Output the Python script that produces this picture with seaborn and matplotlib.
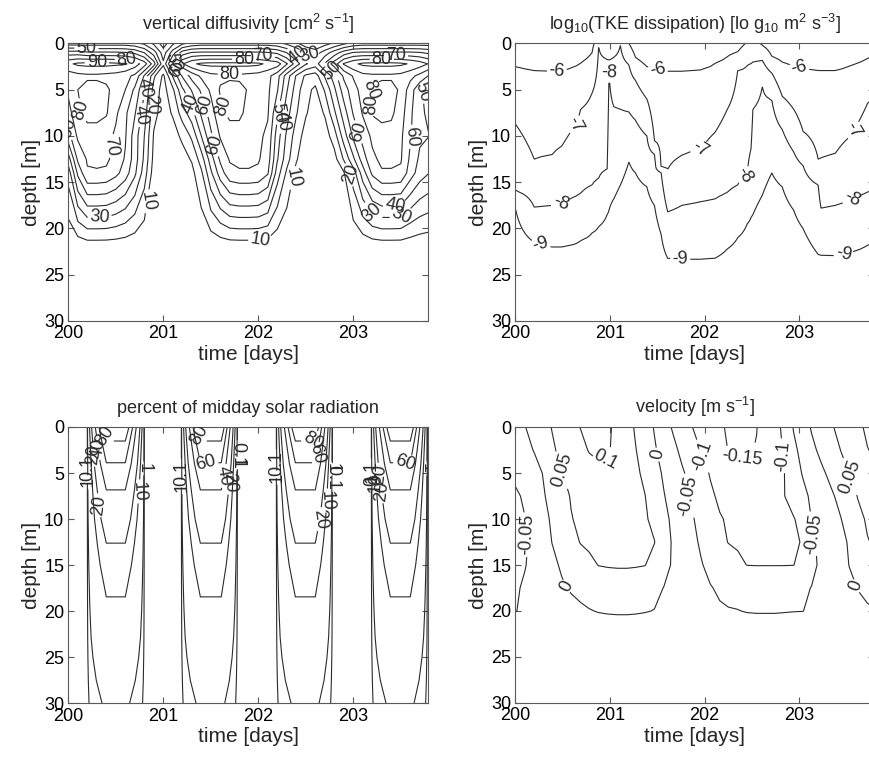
import numpy as np
import matplotlib
matplotlib.use("Agg")
import matplotlib.pyplot as plt
import seaborn as sns

# ------------------------------------------------------------------ data
# (a) vertical diffusivity [cm2 s-1] : rows = depth, columns = time
kv_time = [200.0, 200.1, 200.2, 200.3, 200.4, 200.5, 200.6, 200.7, 200.8, 200.9,
           201.0, 201.1, 201.2, 201.3, 201.4, 201.5, 201.6, 201.7, 201.8, 201.9,
           202.0, 202.1, 202.2, 202.3, 202.4, 202.5, 202.6, 202.7, 202.8, 202.9,
           203.0, 203.1, 203.2, 203.3, 203.4, 203.5, 203.6, 203.7, 203.8]
kv_depth = [0, 1, 2.2, 3.5, 5, 7.5, 10, 12.5, 14, 22.5, 30]
kv_z0 = [35, 35, 35, 35, 35, 35, 35, 33, 28, 18, 5, 18, 28, 33, 35, 35, 35, 35, 35, 35,
         35, 35, 33, 28, 22, 14, 11, 16, 22, 28, 33, 35, 35, 35, 35, 35, 35, 35, 35]
kv_z1 = [65, 65, 62, 62, 62, 62, 61, 58, 50, 35, 15, 35, 55, 61, 62, 62, 62, 62, 62, 62,
         62, 61, 58, 50, 39, 30, 25, 35, 45, 55, 61, 62, 62, 62, 62, 62, 62, 61, 58]
kv_z22 = [88, 92, 93, 93, 93, 92, 91, 85, 75, 55, 22, 55, 79, 88, 92, 93, 93, 93, 93, 93,
          92, 88, 85, 71, 55, 41, 35, 51, 65, 81, 88, 92, 93, 93, 93, 92, 89, 85, 79]
kv_z35 = [75, 77, 78, 78, 77, 76, 73, 68, 49, 22, 8, 31, 51, 64, 72, 77, 78, 78, 78, 77,
          76, 73, 64, 45, 29, 18, 15, 31, 45, 62, 71, 77, 78, 78, 78, 77, 73, 67, 59]
kv_z5 = [72, 80, 84, 84, 82, 76, 70, 58, 41, 16, 6, 18, 38, 51, 62, 72, 81, 84, 83, 79,
         76, 72, 61, 41, 25, 13, 8, 21, 38, 55, 66, 74, 81, 84, 84, 78, 65, 52, 45]
kv_z75 = [66, 78, 83, 83, 81, 72, 62, 51, 35, 13, 6, 11, 25, 36, 52, 65, 78, 82, 82, 77,
          74, 71, 52, 34, 21, 11, 5, 11, 28, 45, 61, 71, 81, 83, 82, 75, 62, 52, 48]
kv_z10 = [56, 72, 76, 76, 74, 68, 61, 45, 30, 9, 4, 6, 12, 22, 40, 58, 71, 76, 76, 74,
          72, 68, 45, 28, 15, 6, 3, 5, 15, 35, 52, 64, 72, 76, 76, 72, 61, 52, 50]
kv_z125 = [35, 62, 71, 72, 72, 66, 59, 45, 28, 7, 2, 3, 6, 11, 25, 45, 62, 71, 72, 72,
           71, 65, 41, 24, 11, 3, 2, 3, 6, 21, 38, 55, 68, 72, 72, 71, 58, 48, 45]
kv_z14 = [24, 52, 69, 69, 68, 63, 55, 42, 25, 5, 1, 2, 4, 7, 18, 38, 55, 67, 69, 69,
          68, 61, 35, 18, 7, 2, 1, 1, 3, 9, 25, 45, 62, 69, 69, 68, 55, 45, 40]
kv_z225 = [0, 0, 0, 0, 0, 0, 0, 0, 0, 0, 0, 0, 0, 0, 0, 0, 0, 0, 0, 0,
           0, 0, 0, 0, 0, 0, 0, 0, 0, 0, 0, 0, 0, 0, 0, 0, 0, 0, 0]
kv_z30 = [0, 0, 0, 0, 0, 0, 0, 0, 0, 0, 0, 0, 0, 0, 0, 0, 0, 0, 0, 0,
          0, 0, 0, 0, 0, 0, 0, 0, 0, 0, 0, 0, 0, 0, 0, 0, 0, 0, 0]
kv_levels = [10, 20, 30, 40, 50, 60, 70, 80, 90]

# (b) log10 TKE dissipation: depth [m] of each isoline at each time
tke_time = [200.00, 200.20, 200.39, 200.49, 200.64, 200.69, 200.81, 200.88, 200.97, 200.99,
            201.04, 201.11, 201.20, 201.27, 201.39, 201.47, 201.54, 201.61, 201.76, 201.96,
            202.11, 202.24, 202.35, 202.45, 202.49, 202.51, 202.61, 202.71, 202.82, 202.94,
            203.04, 203.20, 203.23, 203.38, 203.53, 203.72, 203.80]
tke_d6 = [2.5, 2.86, 3.0, 2.9, 2.4, 2.1, 1.0, -0.5, -1.5, -1.5,
          -1.2, -0.6, 0.0, 1.5, 2.5, 2.75, 2.9, 3.0, 3.0, 2.8,
          2.1, 1.4, 0.9, -0.2, -0.4, -0.5, 0.2, 1.4, 2.0, 2.4,
          2.7, 2.85, 2.86, 2.86, 2.4, 1.6, 1.3]
tke_d7 = [8.7, 12.5, 12.0, 11.1, 8.7, 7.1, 5.35, 0.3, 1.7, 1.8,
          1.5, 0.2, 2.3, 4.0, 6.0, 10.5, 13.4, 13.6, 12.1, 11.4,
          9.6, 7.1, 2.86, 2.3, 2.1, 2.0, 1.8, 3.2, 5.7, 7.1,
          9.5, 12.5, 12.4, 11.9, 10.1, 6.5, 5.0]
tke_d8 = [15.9, 17.7, 17.5, 17.3, 16.5, 16.2, 15.3, 14.6, 13.6, 3.04,
          6.8, 7.1, 7.4, 8.3, 10.0, 12.0, 13.9, 18.2, 17.5, 17.1,
          16.8, 16.1, 15.3, 14.0, 11.4, 7.1, 4.65, 6.1, 9.3, 11.7,
          13.2, 15.3, 17.8, 17.5, 17.0, 16.1, 15.8]
tke_d9 = [17.8, 21.5, 22.0, 22.0, 21.6, 21.3, 20.5, 19.8, 18.5, 18.0,
          16.8, 15.3, 12.8, 14.0, 15.5, 17.5, 20.6, 23.2, 23.3, 23.3,
          23.2, 22.2, 21.0, 19.5, 18.8, 18.5, 16.4, 14.0, 15.5, 18.0,
          20.0, 22.8, 22.85, 22.9, 22.6, 21.8, 21.5]
tke_levels = [-9, -8, -7, -6]

# (c) percent of midday solar radiation: daily cycle x attenuation profile
sol_time = [200.00, 200.20, 200.24, 200.40, 200.60, 200.76, 200.80,
            201.19, 201.23, 201.39, 201.61, 201.74, 201.78,
            202.19, 202.23, 202.39, 202.60, 202.74, 202.78,
            203.19, 203.23, 203.39, 203.60, 203.74, 203.78, 203.85]
sol_cycle = [0, 0, 0.17, 1, 1, 0.17, 0,
             0, 0.17, 1, 1, 0.17, 0,
             0, 0.17, 1, 1, 0.17, 0,
             0, 0.17, 1, 1, 0.17, 0, 0]
sol_depth = [0, 1.6, 4, 6.9, 10, 12.7, 15, 18.5, 20, 22.8, 25, 27.5, 30]
sol_percent = [100, 79, 59, 39.5, 28, 19.7, 15, 9.9, 8.3, 5.9, 3.7, 2.2, 1.3]
sol_levels = [0.1, 1, 10, 20, 40, 60, 80]

# (d) velocity [m s-1] : rows = depth, columns = time
vel_time = [200.00, 200.10, 200.20, 200.29, 200.39, 200.49, 200.59, 200.69, 200.78, 200.88,
            200.98, 201.08, 201.18, 201.27, 201.37, 201.47, 201.57, 201.67, 201.76, 201.86,
            201.96, 202.06, 202.16, 202.25, 202.35, 202.45, 202.55, 202.64, 202.74, 202.84,
            202.94, 203.04, 203.13, 203.23, 203.33, 203.43, 203.53, 203.62, 203.72, 203.82]
vel_depth = [0, 2.5, 5, 7.5, 10, 12.5, 15, 17.5, 20, 22.5, 30]
vel_z0 = [-0.02, -0.002, 0.017, 0.035, 0.052, 0.068, 0.087, 0.101, 0.112, 0.115,
          0.105, 0.091, 0.068, 0.045, 0.021, -0.003, -0.031, -0.056, -0.077, -0.098,
          -0.114, -0.129, -0.144, -0.155, -0.164, -0.16, -0.151, -0.132, -0.114, -0.091,
          -0.047, -0.021, 0.004, 0.024, 0.044, 0.061, 0.077, 0.094, 0.105, 0.11]
vel_z25 = [-0.03, -0.013, 0.002, 0.023, 0.044, 0.06, 0.075, 0.09, 0.102, 0.106,
           0.103, 0.09, 0.071, 0.052, 0.029, 0.005, -0.017, -0.039, -0.06, -0.08,
           -0.101, -0.118, -0.136, -0.151, -0.156, -0.154, -0.148, -0.13, -0.114, -0.097,
           -0.061, -0.034, -0.011, 0.01, 0.03, 0.049, 0.067, 0.083, 0.099, 0.105]
vel_z5 = [-0.042, -0.032, -0.016, 0.001, 0.024, 0.048, 0.062, 0.074, 0.085, 0.093,
          0.095, 0.09, 0.078, 0.06, 0.039, 0.016, -0.006, -0.025, -0.044, -0.064,
          -0.084, -0.103, -0.12, -0.132, -0.14, -0.142, -0.138, -0.128, -0.116, -0.101,
          -0.072, -0.046, -0.028, -0.009, 0.01, 0.03, 0.051, 0.065, 0.078, 0.088]
vel_z75 = [-0.056, -0.045, -0.023, -0.005, 0.014, 0.035, 0.053, 0.063, 0.071, 0.077,
           0.08, 0.078, 0.072, 0.062, 0.051, 0.026, 0.002, -0.017, -0.037, -0.056,
           -0.074, -0.093, -0.107, -0.116, -0.12, -0.12, -0.118, -0.113, -0.107, -0.101,
           -0.086, -0.062, -0.042, -0.025, -0.008, 0.011, 0.033, 0.052, 0.065, 0.072]
vel_z10 = [-0.062, -0.051, -0.033, -0.013, 0.006, 0.027, 0.048, 0.058, 0.065, 0.07,
           0.072, 0.071, 0.067, 0.061, 0.055, 0.039, 0.012, -0.01, -0.027, -0.045,
           -0.062, -0.079, -0.097, -0.104, -0.108, -0.109, -0.109, -0.108, -0.106, -0.104,
           -0.102, -0.088, -0.049, -0.034, -0.019, -0.003, 0.017, 0.039, 0.055, 0.062]
vel_z125 = [-0.066, -0.056, -0.037, -0.018, 0.001, 0.018, 0.036, 0.052, 0.057, 0.061,
            0.063, 0.063, 0.061, 0.058, 0.055, 0.051, 0.019, -0.006, -0.022, -0.039,
            -0.055, -0.072, -0.09, -0.101, -0.103, -0.104, -0.104, -0.104, -0.104, -0.103,
            -0.102, -0.099, -0.058, -0.039, -0.025, -0.011, 0.004, 0.026, 0.048, 0.056]
vel_z15 = [-0.062, -0.052, -0.038, -0.024, -0.009, 0.005, 0.017, 0.029, 0.041, 0.051,
           0.053, 0.054, 0.054, 0.053, 0.051, 0.036, 0.014, -0.006, -0.019, -0.033,
           -0.047, -0.06, -0.071, -0.083, -0.095, -0.1005, -0.101, -0.101, -0.101, -0.101,
           -0.1005, -0.089, -0.061, -0.042, -0.028, -0.014, 0.001, 0.012, 0.022, 0.03]
vel_z175 = [-0.055, -0.045, -0.035, -0.024, -0.014, -0.005, 0.004, 0.012, 0.018, 0.022,
            0.025, 0.026, 0.026, 0.024, 0.02, 0.01, -0.001, -0.012, -0.023, -0.034,
            -0.042, -0.048, -0.055, -0.06, -0.064, -0.066, -0.067, -0.067, -0.066, -0.064,
            -0.061, -0.056, -0.049, -0.037, -0.027, -0.017, -0.008, 0.001, 0.008, 0.015]
vel_z20 = [-0.051, -0.045, -0.038, -0.031, -0.025, -0.018, -0.012, -0.007, -0.002, 0.002,
           0.004, 0.005, 0.005, 0.004, 0.002, -0.001, -0.01, -0.02, -0.03, -0.037,
           -0.041, -0.044, -0.046, -0.048, -0.049, -0.052, -0.053, -0.053, -0.053, -0.052,
           -0.051, -0.0505, -0.042, -0.033, -0.026, -0.02, -0.014, -0.008, -0.004, -0.001]
vel_z225 = [-0.025] * 40
vel_z30 = [-0.025] * 40
vel_levels = [-0.15, -0.1, -0.05, 0, 0.05, 0.1]

# ------------------------------------------------------------------ tables
kv_field = np.array([kv_z0, kv_z1, kv_z22, kv_z35, kv_z5, kv_z75, kv_z10,
                     kv_z125, kv_z14, kv_z225, kv_z30], dtype=float)
tke_grid = np.linspace(0, 30, 121)
tke_field = np.array([np.interp(tke_grid, [a - 3, a, b, c, d, d + 10],
                                [-5, -6, -7, -8, -9, -10])
                      for a, b, c, d in zip(tke_d6, tke_d7, tke_d8, tke_d9)]).T
sol_field = np.outer(sol_percent, sol_cycle)
vel_field = np.array([vel_z0, vel_z25, vel_z5, vel_z75, vel_z10, vel_z125, vel_z15,
                      vel_z175, vel_z20, vel_z225, vel_z30], dtype=float)

# ------------------------------------------------------------------ style
sns.set_theme(style="ticks")
plt.rcParams.update({
    "font.family": ["Liberation Sans", "DejaVu Sans"],
    "mathtext.fontset": "custom",
    "mathtext.rm": "Liberation Sans",
    "mathtext.it": "Liberation Sans:italic",
    "mathtext.bf": "Liberation Sans:bold",
    "xtick.direction": "in", "ytick.direction": "in",
    "xtick.top": True, "ytick.right": True,
    "axes.edgecolor": "0.35", "axes.linewidth": 0.8,
    "xtick.color": "0.35", "ytick.color": "0.35",
    "xtick.labelcolor": "black", "ytick.labelcolor": "black",
    "axes.facecolor": "white", "figure.facecolor": "white",
    "contour.negative_linestyle": "solid",
})

LINE = "#2b2b2b"
LABEL_FS = 13

fig = plt.figure(figsize=(8.69, 7.63), dpi=100)
ax1 = fig.add_axes([0.0786, 0.5793, 0.4143, 0.3637])
ax2 = fig.add_axes([0.5930, 0.5793, 0.4128, 0.3637])
ax3 = fig.add_axes([0.0786, 0.0780, 0.4143, 0.3624])
ax4 = fig.add_axes([0.5930, 0.0790, 0.4128, 0.3610])


def draw(ax, x, y, z, levels, fmt, positions):
    cs = ax.contour(x, y, z, levels=levels, colors=LINE, linewidths=0.8,
                    linestyles="solid")
    ax.clabel(cs, levels=levels, fmt=fmt, fontsize=LABEL_FS, inline=True,
              inline_spacing=2, manual=positions)


def style(ax, title):
    ax.set_xlim(200, 203.79)
    ax.set_ylim(30, 0)
    ax.set_xticks([200, 201, 202, 203])
    ax.set_yticks([0, 5, 10, 15, 20, 25, 30])
    ax.set_xlabel("time [days]", fontsize=15, labelpad=2)
    ax.set_ylabel("depth [m]", fontsize=15, labelpad=2)
    ax.set_title(title, fontsize=13, pad=10)
    ax.tick_params(labelsize=13, length=4, width=0.8, pad=3)
    for s in ax.spines.values():
        s.set_visible(True)


kv_pos = [(200.19, 0.6), (200.3, 2.0), (200.62, 1.6), (200.26, 7.0), (200.02, 9.1),
          (200.4, 11.0), (200.74, 7.7), (200.8, 4.8), (200.89, 6.6), (200.86, 17.1),
          (200.33, 18.7), (201.1, 2.1), (201.16, 2.6), (201.28, 6.6), (201.46, 6.6),
          (201.63, 6.8), (201.56, 10.9), (201.85, 1.6), (201.7, 3.2), (202.05, 1.2),
          (202.22, 7.5), (202.28, 8.5), (202.35, 14.5), (202.02, 21.2), (202.42, 1.2),
          (202.55, 1.2), (202.77, 3.0), (203.2, 5.0), (203.3, 6.6), (203.3, 1.6),
          (203.45, 1.2), (203.07, 9.5), (202.95, 14.2), (203.62, 10.1), (203.74, 5.2),
          (203.44, 17.5), (203.5, 18.6), (203.16, 18.5)]
draw(ax1, kv_time, kv_depth, kv_field, kv_levels, "%d", kv_pos)
style(ax1, "vertical diffusivity [cm$^2$ s$^{-1}$]")

tke_pos = [(200.44, 3.0), (201.51, 2.7), (203.01, 2.3), (200.63, 8.75), (201.95, 11.4),
           (203.61, 9.6), (201.0, 2.6), (200.47, 16.8), (202.43, 14.3), (203.57, 17.1),
           (200.26, 22.2), (201.74, 23.6), (203.47, 22.9)]
draw(ax2, tke_time, tke_grid, tke_field, tke_levels, "%d", tke_pos)
style(ax2, "log$_{10}$(TKE dissipation) [lo g$_{10}$ m$^2$ s$^{-3}$]")

sol_pos = [(200.2, 4.5), (200.21, 6.0), (200.27, 3.0), (200.3, 2.3), (200.4, 1.0),
           (200.31, 8.5), (200.79, 4.5), (200.75, 7.0),
           (201.19, 5.0), (201.21, 6.5), (201.42, 0.8), (201.45, 3.5), (201.63, 5.3),
           (201.66, 6.0), (201.765, 4.0), (201.78, 3.0),
           (202.19, 4.0), (202.2, 5.5), (202.58, 2.0), (202.6, 2.9), (202.76, 4.5),
           (202.78, 5.5), (202.74, 8.0), (202.64, 10.0),
           (203.19, 5.0), (203.21, 5.5), (203.24, 6.0), (203.28, 7.0), (203.26, 5.2),
           (203.55, 3.5), (203.76, 4.5)]
draw(ax3, sol_time, sol_depth, sol_field, sol_levels, "%g", sol_pos)
style(ax3, "percent of midday solar radiation")

vel_pos = [(200.51, 4.6), (200.97, 4.3), (201.49, 3.0), (200.54, 17.3), (200.21, 11.6),
           (201.81, 7.5), (201.99, 3.1), (202.39, 2.4), (202.83, 3.1), (203.2, 11.5),
           (203.5, 5.5), (203.6, 17.3)]
draw(ax4, vel_time, vel_depth, vel_field, vel_levels, "%g", vel_pos)
style(ax4, "velocity [m s$^{-1}$]")

fig.savefig("out.png", dpi=100)
